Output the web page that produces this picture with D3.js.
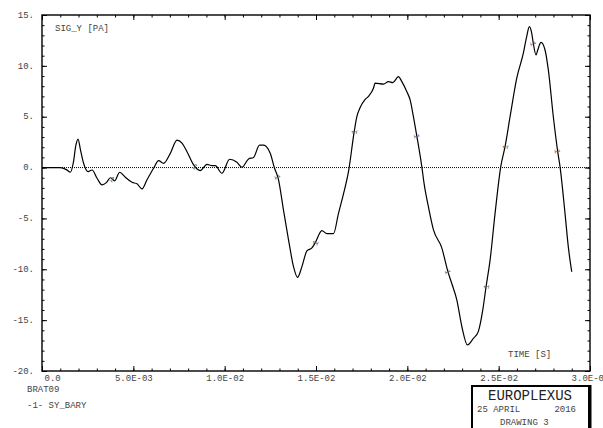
<!DOCTYPE html>
<html><head><meta charset="utf-8">
<script src="https://cdn.jsdelivr.net/npm/d3@7"></script>
<style>body{margin:0;background:#fff}svg{display:block}text{font-family:"Liberation Mono","DejaVu Sans Mono",monospace}</style>
</head><body>
<script>
// time in milliseconds (converted to seconds below), values in PA
const timeMs = [0,1.007,1.335,1.554,1.718,1.855,1.975,2.101,2.281,2.522,2.741,3.014,3.288,3.523,3.742,3.977,4.251,4.562,4.929,5.202,5.476,5.749,6.110,6.384,6.657,7.024,7.391,7.664,7.938,8.299,8.665,9.032,9.305,9.486,9.852,10.268,10.673,10.946,11.307,11.581,11.909,12.128,12.495,12.713,12.949,13.222,13.496,13.769,13.988,14.229,14.502,14.776,14.956,15.323,15.596,15.957,16.231,16.488,16.778,17.106,17.237,17.418,17.691,17.872,18.145,18.238,18.693,18.966,19.207,19.513,19.699,19.973,20.153,20.334,20.520,20.793,20.920,21.154,21.428,21.887,22.216,22.434,22.708,22.981,23.288,23.616,23.889,24.130,24.311,24.530,24.803,25.115,25.350,25.624,25.990,26.351,26.537,26.679,26.811,26.898,27.046,27.139,27.320,27.538,27.719,27.992,28.233,28.359,28.632,28.813,28.999];
const sigY = [0,0,-0.2,-0.46,0.5,2.2,2.8,1.8,0.4,-0.4,-0.24,-1.05,-1.7,-1.48,-1.0,-1.3,-0.46,-0.95,-1.45,-1.6,-2.1,-1.2,-0.07,0.68,0.42,1.4,2.7,2.4,1.56,0.26,-0.3,0.32,0.19,0.19,-0.56,0.82,0.52,0.03,0.85,1.0,2.2,2.2,1.4,0.03,-1.2,-4.2,-7.1,-9.74,-10.8,-9.74,-8.2,-7.9,-7.4,-6.2,-6.5,-6.5,-4.5,-2.7,-0.4,3.7,5.0,5.9,6.7,7.0,7.8,8.3,8.2,8.45,8.35,8.94,8.45,7.46,6.65,5.0,3.1,0.09,-1.6,-3.85,-6.1,-7.9,-10.2,-11.4,-13.0,-15.6,-17.44,-16.8,-16.1,-14.0,-11.7,-9.1,-4.5,0.09,2.05,5.0,8.8,11.24,12.9,13.85,13.2,12.2,11.07,11.56,12.3,11.56,9.6,5.0,1.56,0.09,-4.5,-7.8,-10.24];
const markerMs = [3.855,8.39,12.9,14.96,17.09,20.52,22.22,24.31,25.35,26.9,28.23];
const xTickValues = [0,0.005,0.010,0.015,0.020,0.025,0.030];
const xTickLabels = ["0.0","5.0E-03","1.0E-02","1.5E-02","2.0E-02","2.5E-02","3.0E-02"];
const yTickValues = [-20,-15,-10,-5,0,5,10,15];
const yTickLabels = ["-20.","-15.","-10.","-5.","0.","5.","10.","15."];

const W=603,H=428;
const svg=d3.select("body").append("svg").attr("width",W).attr("height",H);
const x=d3.scaleLinear().domain([0,0.03]).range([42,590]);
const y=d3.scaleLinear().domain([-20,15]).range([371,15]);
const data=timeMs.map((t,i)=>({t:t/1000,v:sigY[i]}));
const txt="#444";

// minor ticks
const xMinor=d3.range(0,0.0301,0.001);
const yMinor=d3.range(-20,15.01,1);
function tickGroup(axis,transform){
  const g=svg.append("g").attr("transform",transform).call(axis);
  g.select(".domain").remove();
  g.selectAll("line").attr("stroke","#000").attr("stroke-width",1);
  return g;
}
tickGroup(d3.axisBottom(x).tickValues(xMinor).tickSize(-2.5).tickFormat(""),`translate(0,${y(-20)})`);
tickGroup(d3.axisBottom(x).tickValues(xTickValues).tickSize(-5).tickFormat(""),`translate(0,${y(-20)})`);
tickGroup(d3.axisTop(x).tickValues(xMinor).tickSize(-2.5).tickFormat(""),`translate(0,${y(15)})`);
tickGroup(d3.axisTop(x).tickValues(xTickValues).tickSize(-5).tickFormat(""),`translate(0,${y(15)})`);
tickGroup(d3.axisLeft(y).tickValues(yMinor).tickSize(-2.5).tickFormat(""),`translate(${x(0)},0)`);
tickGroup(d3.axisLeft(y).tickValues(yTickValues).tickSize(-5).tickFormat(""),`translate(${x(0)},0)`);
tickGroup(d3.axisRight(y).tickValues(yMinor).tickSize(-2.5).tickFormat(""),`translate(${x(0.03)},0)`);
tickGroup(d3.axisRight(y).tickValues(yTickValues).tickSize(-5).tickFormat(""),`translate(${x(0.03)},0)`);

// labels
const gx=svg.append("g").attr("transform",`translate(0,${y(-20)})`)
  .call(d3.axisBottom(x).tickValues(xTickValues).tickSize(0).tickPadding(4).tickFormat((d,i)=>xTickLabels[i]));
gx.select(".domain").remove();
gx.selectAll("text").attr("font-size",9).attr("fill",txt).attr("font-family","Liberation Mono");
gx.selectAll("text").filter((d,i)=>i===0).attr("text-anchor","start").attr("x",2);
const gy=svg.append("g").attr("transform",`translate(${x(0)},0)`)
  .call(d3.axisLeft(y).tickValues(yTickValues).tickSize(0).tickPadding(8).tickFormat((d,i)=>yTickLabels[i]));
gy.select(".domain").remove();
gy.selectAll("text").attr("font-size",9).attr("fill",txt).attr("font-family","Liberation Mono").attr("dy","0.25em");

// frame
svg.append("rect").attr("x",x(0)).attr("y",y(15)).attr("width",x(0.03)-x(0)).attr("height",y(-20)-y(15))
  .attr("fill","none").attr("stroke","#000").attr("stroke-width",1.4);

// zero line
svg.append("line").attr("x1",x(0)).attr("x2",x(0.03)).attr("y1",y(0)).attr("y2",y(0))
  .attr("stroke","#000").attr("stroke-width",1).attr("stroke-dasharray","1,1");

// curve
svg.append("path").datum(data).attr("fill","none").attr("stroke","#000").attr("stroke-width",1.2)
  .attr("d",d3.line().x(d=>x(d.t)).y(d=>y(d.v)).curve(d3.curveMonotoneX));

// markers
const bis=d3.bisector(d=>d.t).left;
function interp(t){
  const i=Math.max(1,Math.min(data.length-1,bis(data,t)));
  const a=data[i-1],b=data[i];const f=(t-a.t)/(b.t-a.t);
  return {v:a.v+f*(b.v-a.v),a,b};
}
markerMs.forEach(m=>{
  const t=m/1000;const r=interp(t);
  const px=x(t),py=y(r.v);
  const ang=Math.atan2(y(r.b.v)-y(r.a.v),x(r.b.t)-x(r.a.t))*180/Math.PI;
  svg.append("text").attr("transform",`translate(${px},${py}) rotate(${ang})`)
    .attr("text-anchor","middle").attr("dy","0.35em").attr("font-size",8).attr("fill","#666").text("1");
});

// texts
svg.append("text").attr("x",55).attr("y",31).attr("font-size",9).attr("fill",txt).text("SIG_Y [PA]");
svg.append("text").attr("x",508).attr("y",357).attr("font-size",9).attr("fill",txt).text("TIME [S]");
svg.append("text").attr("x",27).attr("y",392).attr("font-size",9).attr("fill",txt).text("BRAT09");
svg.append("text").attr("x",27).attr("y",408).attr("font-size",9).attr("fill",txt).text("-1- SY_BARY");

// box
svg.append("rect").attr("x",472).attr("y",386).attr("width",117).attr("height",60)
  .attr("fill","#fff").attr("stroke","#000").attr("stroke-width",2);
svg.append("line").attr("x1",590).attr("x2",590).attr("y1",385).attr("y2",428).attr("stroke","#000").attr("stroke-width",3);
svg.append("text").attr("x",530).attr("y",399.5).attr("text-anchor","middle").attr("font-size",14).attr("fill","#222").text("EUROPLEXUS");
svg.append("text").attr("x",477).attr("y",411.5).attr("font-size",9).attr("fill",txt).text("25 APRIL");
svg.append("text").attr("x",576).attr("y",411.5).attr("text-anchor","end").attr("font-size",9).attr("fill",txt).text("2016");
svg.append("text").attr("x",500).attr("y",425).attr("font-size",9).attr("fill",txt).text("DRAWING  3");
</script>
</body></html>
